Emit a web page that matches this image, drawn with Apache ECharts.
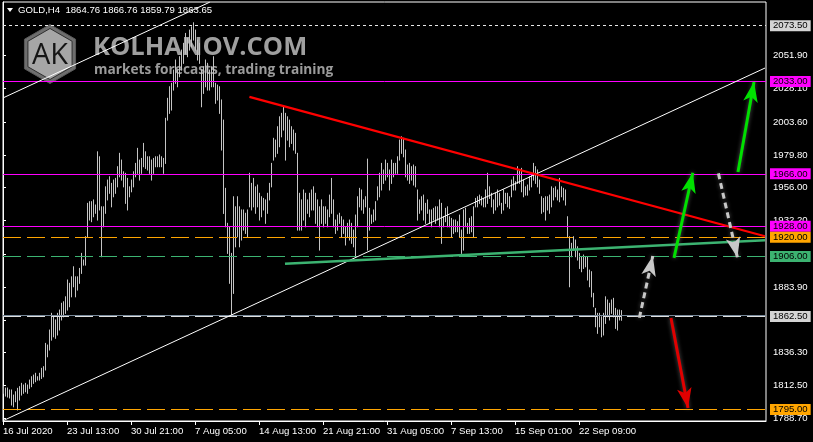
<!DOCTYPE html>
<html>
<head>
<meta charset="utf-8">
<script src="https://cdn.jsdelivr.net/npm/echarts@6/dist/echarts.min.js"></script>
<style>html,body{margin:0;padding:0;background:#000;}#c{width:813px;height:442px;}</style>
</head>
<body>
<div id="c"></div>
<script>
// ---- DATA (GOLD, H4) ----
const symbolTitle = 'GOLD,H4  1864.76 1866.76 1859.79 1863.65';
const xLabels = ['16 Jul 2020','23 Jul 13:00','30 Jul 21:00','7 Aug 05:00','14 Aug 13:00','21 Aug 21:00','31 Aug 05:00','7 Sep 13:00','15 Sep 01:00','22 Sep 09:00'];
const xLabelBars = [0,32,64,96,128,160,192,224,256,288];
const yLabels = [1788.70,1812.50,1836.30,1860.10,1883.90,1932.20,1956.00,1979.80,2003.60,2028.10,2051.90];
const yTicks = [1788.70,1812.50,1836.30,1860.10,1883.90,1908.00,1932.20,1956.00,1979.80,2003.60,2028.10,2051.90];

const highs = [
1811.6,1810.6,1810.6,1809.2,1809.2,1805.5,1807.9,1810.4,1811.6,1814.0,
1812.8,1814.0,1812.8,1816.4,1818.8,1820.0,1821.3,1818.8,1821.3,1824.9,
1826.1,1843.0,1841.8,1852.7,1864.8,1862.3,1860.0,1864.8,1867.2,1872.1,
1873.2,1876.8,1889.0,1886.6,1891.3,1898.6,1891.3,1891.3,1897.4,1908.3,
1903.5,1920.4,1944.6,1945.8,1945.8,1947.1,1943.4,1982.0,1978.4,1942.1,
1942.1,1956.6,1961.5,1963.9,1959.1,1961.5,1962.7,1971.2,1980.9,1976.0,
1967.5,1966.4,1962.7,1956.6,1961.5,1967.5,1973.6,1984.5,1976.0,1977.2,
1988.1,1982.0,1978.4,1978.4,1976.0,1977.2,1978.4,1978.4,1979.7,1978.4,
1977.2,2006.3,2020.8,2029.2,2031.7,2041.3,2048.6,2041.3,2051.0,2055.8,
2060.7,2067.9,2064.3,2070.3,2072.7,2075.6,2070.3,2063.1,2060.7,2041.3,
2043.7,2048.6,2046.2,2041.3,2043.7,2051.0,2031.7,2030.4,2029.2,2019.6,
2005.0,1955.5,1930.1,1927.6,1908.3,1949.4,1942.1,1949.4,1942.1,1939.8,
1939.8,1937.4,1939.8,1966.4,1959.1,1962.7,1956.6,1957.9,1951.9,1949.4,
1948.2,1947.1,1951.9,1959.1,1973.6,1991.8,1990.5,2000.2,2007.4,2009.9,
2015.2,2009.9,2007.4,2005.0,2000.2,1997.8,1995.4,1980.9,1951.9,1947.1,
1954.3,1951.9,1947.1,1951.9,1954.3,1956.6,1951.9,1947.1,1942.1,1947.1,
1942.1,1942.1,1939.8,1950.6,1962.7,1947.1,1932.5,1936.1,1937.4,1934.9,
1932.5,1927.6,1930.1,1932.5,1930.1,1925.2,1936.1,1949.4,1955.5,1954.3,
1947.1,1949.4,1976.7,1941.0,1936.1,1939.8,1945.8,1956.6,1966.4,1973.6,
1968.8,1976.0,1973.6,1968.8,1976.0,1973.6,1973.6,1978.4,1990.5,1992.9,
1991.8,1983.3,1972.4,1973.6,1971.2,1972.4,1971.2,1954.3,1947.1,1949.4,
1950.6,1944.6,1947.1,1939.8,1939.8,1941.0,1942.1,1942.1,1947.1,1944.6,
1934.9,1941.0,1942.1,1934.9,1933.7,1932.5,1932.5,1931.3,1936.1,1925.2,
1939.8,1941.0,1930.1,1933.7,1934.9,1942.1,1948.2,1949.4,1950.6,1949.4,
1948.2,1954.3,1966.4,1956.6,1951.9,1947.1,1951.9,1954.3,1951.9,1944.6,
1954.3,1951.9,1951.9,1949.4,1961.5,1963.9,1960.3,1971.2,1968.8,1970.0,
1961.5,1956.6,1957.9,1963.9,1966.4,1973.6,1971.2,1968.8,1961.5,1949.4,
1948.2,1949.4,1949.4,1950.6,1956.6,1955.5,1956.6,1954.3,1962.7,1956.6,
1955.5,1954.3,1934.9,1920.4,1915.6,1920.4,1918.0,1913.1,1908.3,1905.9,
1907.1,1905.9,1905.9,1896.2,1895.0,1879.3,1868.4,1864.8,1864.8,1862.3,
1864.8,1876.8,1874.5,1872.1,1874.5,1875.7,1868.4,1867.2,1867.2,1866.76
];
const lows = [
1806.8,1804.8,1804.1,1803.4,1798.3,1797.0,1800.7,1794.7,1801.9,1805.5,
1806.8,1807.9,1806.8,1810.4,1811.6,1814.0,1815.2,1816.4,1816.4,1817.6,
1818.8,1823.7,1833.3,1838.2,1845.4,1847.8,1846.7,1849.1,1852.7,1860.0,
1862.3,1864.8,1867.2,1869.6,1876.8,1884.1,1876.8,1881.7,1886.6,1893.8,
1899.8,1899.8,1920.4,1932.5,1931.3,1934.9,1937.4,1932.5,1939.8,1905.9,
1927.6,1937.4,1947.1,1951.9,1942.1,1949.4,1951.9,1956.6,1963.9,1961.5,
1956.6,1944.6,1939.8,1949.4,1953.0,1956.6,1963.9,1966.4,1961.5,1966.4,
1971.2,1970.0,1968.8,1966.4,1961.5,1966.4,1971.2,1971.2,1971.2,1971.2,
1966.4,1973.6,2005.0,2009.9,2012.3,2026.8,2031.7,2029.2,2036.5,2041.3,
2046.2,2053.4,2051.0,2055.8,2058.2,2063.1,2055.8,2048.6,2046.2,2014.7,
2024.4,2029.2,2026.8,2026.8,2029.2,2029.2,2017.2,2019.6,2009.9,1983.3,
1937.3,1927.6,1908.3,1886.6,1863.6,1879.3,1913.1,1920.4,1913.1,1918.0,
1925.2,1922.8,1920.4,1942.1,1939.8,1942.1,1937.4,1942.1,1932.5,1934.9,
1939.8,1930.1,1937.4,1947.1,1956.6,1976.0,1978.4,1980.9,1985.7,1992.9,
1997.8,1976.0,1990.5,1985.7,1988.1,1983.3,1980.9,1925.2,1925.2,1925.2,
1932.5,1927.6,1937.4,1934.9,1939.8,1939.8,1930.1,1927.6,1910.7,1930.1,
1927.6,1930.1,1927.6,1934.9,1937.4,1927.6,1922.8,1925.2,1930.1,1920.4,
1922.8,1914.4,1920.4,1918.0,1915.6,1913.1,1905.9,1927.6,1942.1,1939.8,
1937.4,1942.1,1910.7,1925.2,1930.1,1931.3,1932.5,1947.1,1949.4,1954.3,
1959.1,1961.5,1963.9,1954.3,1959.1,1963.9,1966.4,1966.4,1976.0,1980.9,
1978.4,1963.9,1961.5,1959.1,1961.5,1957.9,1956.6,1932.5,1937.4,1939.8,
1932.5,1930.1,1937.4,1930.1,1927.6,1932.5,1930.1,1932.5,1927.6,1915.6,
1927.6,1931.3,1927.6,1927.6,1920.4,1922.8,1924.0,1924.0,1920.4,1908.3,
1910.7,1927.6,1922.8,1922.8,1924.0,1920.4,1942.1,1942.1,1944.6,1943.4,
1942.1,1942.1,1944.6,1948.2,1942.1,1937.4,1939.8,1942.1,1943.4,1937.4,
1939.8,1944.6,1942.1,1941.0,1949.4,1954.3,1954.3,1959.1,1959.1,1953.0,
1949.4,1950.6,1950.6,1954.3,1956.6,1961.5,1959.1,1956.6,1951.9,1937.4,
1938.5,1932.5,1939.8,1937.4,1942.1,1947.1,1949.4,1947.1,1945.8,1949.4,
1947.1,1943.4,1920.4,1884.1,1905.9,1910.7,1905.9,1903.5,1897.4,1895.0,
1897.4,1898.6,1889.0,1884.1,1876.8,1869.6,1855.1,1850.3,1855.1,1847.8,
1849.1,1857.5,1862.3,1860.0,1864.8,1862.3,1853.9,1852.7,1860.0,1859.79
];

// horizontal levels (price) and their colours
const levelPrices = [2073.50, 2033.00, 1966.00, 1928.00, 1920.00, 1906.00, 1862.50, 1795.00];
const bidPrice = 1863.65;
// trend lines: [[bar, price],[bar, price]]
const whiteChannelUpper = [[0, 2021.1], [103.4, 2090.6]];
const whiteChannelLower = [[0, 1786.9], [381, 2042.8]];
const redTrend = [[123.2, 2021.9], [381, 1920.7]];
const greenTrend = [[141, 1900.8], [381, 1917.8]];
// forecast arrows: [[bar, price] tail, [bar, price] head]
const arrowGrayUp = [[318.2, 1861.6], [324.9, 1906.4]];
const arrowGreenUp1 = [[335.5, 1905.1], [344.9, 1966.8]];
const arrowGrayDown = [[357.7, 1966.4], [367.2, 1905.4]];
const arrowGreenUp2 = [[367.5, 1967.3], [375.5, 2032.6]];
const arrowRedDown = [[334.0, 1861.4], [342.5, 1796.1]];

// ---- STYLES ----
const FONT = '"Liberation Sans",Arial,sans-serif';
const FS = 9.6;
const levelStyles = [
  {line:'#e8e8e8', type:[3,3], box:'#d4d4d4'},
  {line:'#ff00ff', type:'solid', box:'#ff00ff'},
  {line:'#ff00ff', type:'solid', box:'#ff00ff'},
  {line:'#ff00ff', type:'solid', box:'#ff00ff'},
  {line:'#ffa500', type:[18,6], box:'#ffa500'},
  {line:'#3cb371', type:[18,6], box:'#3cb371'},
  {line:'#e0e0e0', type:[18,6], box:'#d4d4d4'},
  {line:'#ffa500', type:[18,6], box:'#ffa500'}
];

const barData = highs.map((h, i) => [i, lows[i], h]);

const levelItems = levelPrices.map((p, k) => ({
  yAxis: p,
  lineStyle: {color: levelStyles[k].line, type: levelStyles[k].type, width: 1},
  label: {
    show: true, position: 'end', distance: 4,
    formatter: (q) => Number(q.value).toFixed(2),
    backgroundColor: levelStyles[k].box, color: '#000',
    fontFamily: FONT, fontSize: FS, lineHeight: 11, padding: [0, 3, 0, 3]
  }
}));
levelItems.push({yAxis: bidPrice, lineStyle: {color: '#778899', type: 'solid', width: 1}, label: {show: false}});

function seg(pts, color, width, type) {
  const ls = {color: color, width: width, type: type || 'solid'};
  return [
    {coord: pts[0], symbol: 'none', lineStyle: ls, label: {show: false}},
    {coord: pts[1], symbol: 'none', lineStyle: ls, label: {show: false}}
  ];
}
function arrow(pts, color, type) {
  const ls = {color: color, width: 3, type: type || 'solid', shadowBlur: 4, shadowColor: 'rgba(120,120,120,0.7)'};
  return [
    {coord: pts[0], symbol: 'none', lineStyle: ls, label: {show: false}},
    {coord: pts[1], symbol: 'arrow', symbolSize: [11, 20], lineStyle: ls, itemStyle: {color: color}, label: {show: false}}
  ];
}

const lineItems = [
  seg(whiteChannelUpper, '#ffffff', 1),
  seg(whiteChannelLower, '#ffffff', 1),
  seg(redTrend, '#ff0000', 2.2),
  seg(greenTrend, '#3cb371', 2.5),
  arrow(arrowGrayUp, '#c8c8c8', [6, 4]),
  arrow(arrowGreenUp1, '#00e000'),
  arrow(arrowGrayDown, '#c8c8c8', [6, 4]),
  arrow(arrowGreenUp2, '#00e000'),
  arrow(arrowRedDown, '#e00000')
];

const hex = (cx, cy, r) => [[cx, cy - r], [cx + r * 0.866, cy - r / 2], [cx + r * 0.866, cy + r / 2], [cx, cy + r], [cx - r * 0.866, cy + r / 2], [cx - r * 0.866, cy - r / 2]];

const chart = echarts.init(document.getElementById('c'), null, {renderer: 'canvas'});
const option = {
  backgroundColor: '#000000',
  animation: false,
  grid: {left: 3, right: 47, top: 2, bottom: 21, show: true, borderColor: '#ffffff', borderWidth: 1},
  xAxis: {
    type: 'value', min: 0, max: 381.5,
    axisLine: {show: true, lineStyle: {color: '#ffffff'}},
    axisTick: {show: true, customValues: xLabelBars, length: 4, lineStyle: {color: '#ffffff'}},
    axisLabel: {
      show: true, customValues: xLabelBars,
      formatter: (v) => xLabels[xLabelBars.indexOf(Math.round(v))] || '',
      color: '#ffffff', fontFamily: FONT, fontSize: FS, align: 'left', margin: 5
    },
    splitLine: {show: false}
  },
  yAxis: {
    type: 'value', position: 'right', min: 1786.7, max: 2090.7,
    axisLine: {show: true, lineStyle: {color: '#ffffff'}},
    axisTick: {show: true, customValues: yTicks, length: 3, lineStyle: {color: '#ffffff'}},
    axisLabel: {
      show: true, customValues: yLabels,
      formatter: (v) => Number(v).toFixed(2),
      color: '#ffffff', fontFamily: FONT, fontSize: FS, margin: 7
    },
    splitLine: {show: false}
  },
  graphic: [
    {type: 'polygon', shape: {points: [[7, 8], [13, 8], [10, 12]]}, style: {fill: '#ffffff'}, z: 10},
    {type: 'text', left: 18, top: 5, style: {text: symbolTitle, fill: '#ffffff', font: FS + 'px ' + FONT}, z: 10},
    {type: 'polygon', shape: {points: hex(50, 54, 29.5)}, style: {fill: '#6e6e6e', stroke: '#5a5a5a', lineWidth: 1}, z: 0},
    {type: 'polygon', shape: {points: hex(50, 54, 25.5)}, style: {fill: '#a6a6a6', stroke: '#2e2e2e', lineWidth: 1}, z: 0},
    {type: 'text', x: 50, y: 56, style: {text: 'AK', fill: '#151515', font: '29px "Open Sans"', textAlign: 'center', textVerticalAlign: 'middle'}, z: 0},
    {type: 'text', x: 93, y: 48, style: {text: 'KOLHANOV.COM', fill: 'rgba(172,172,172,0.92)', font: 'bold 25.5px "Open Sans"', textVerticalAlign: 'middle'}, z: 0},
    {type: 'text', x: 94, y: 70, style: {text: 'markets forecasts, trading training', fill: 'rgba(168,168,168,0.92)', font: 'bold 13.7px "Open Sans"', textVerticalAlign: 'middle'}, z: 0}
  ],
  series: [
    {
      type: 'custom',
      name: 'GOLD',
      data: barData,
      encode: {x: 0, y: [1, 2]},
      clip: false,
      renderItem: function (params, api) {
        const lo = api.coord([api.value(0), api.value(1)]);
        const hi = api.coord([api.value(0), api.value(2)]);
        const px = Math.round(lo[0]) + 0.5;
        return {type: 'line', shape: {x1: px, y1: lo[1] + 0.5, x2: px, y2: hi[1] - 0.5},
          style: {stroke: '#c4c4c4', lineWidth: 1}};
      },
      markLine: {
        silent: true, animation: false, symbol: ['none', 'none'],
        data: levelItems.concat(lineItems)
      }
    }
  ]
};
chart.setOption(option);
</script>
</body>
</html>
